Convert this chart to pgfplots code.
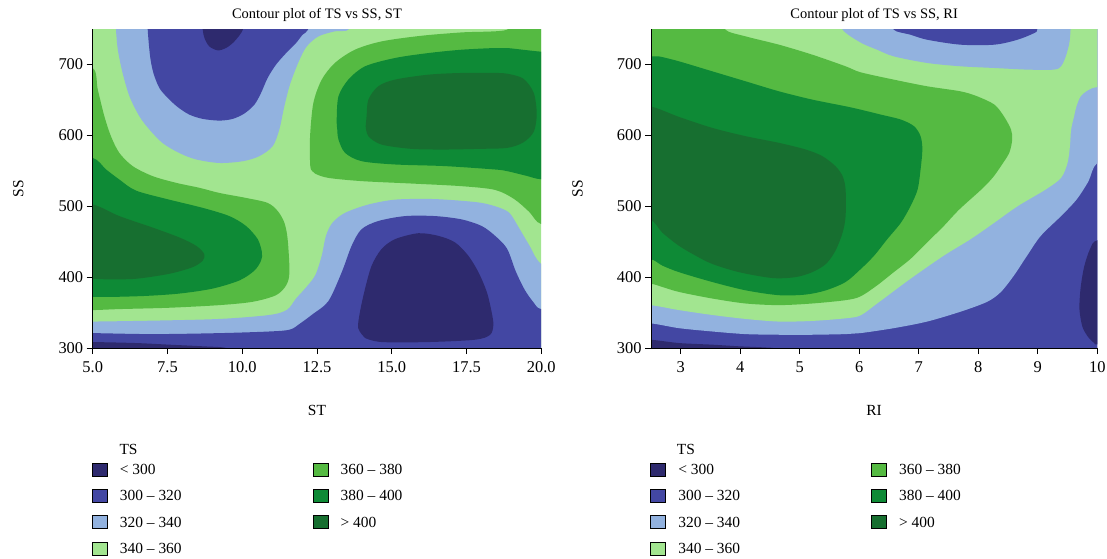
\documentclass[border=0pt]{standalone}
\usepackage{fontspec}
\setmainfont{Liberation Serif}
\usepackage{pgfplots}
\pgfplotsset{compat=1.18}
\definecolor{cA}{HTML}{2E2A6E}
\definecolor{cB}{HTML}{4347A3}
\definecolor{cC}{HTML}{92B2DF}
\definecolor{cD}{HTML}{A2E590}
\definecolor{cE}{HTML}{55BA42}
\definecolor{cF}{HTML}{0E8A36}
\definecolor{cG}{HTML}{176F30}
\pgfplotsset{
  cbase/.style={
    scale only axis, height=319bp,
    ymin=300, ymax=750, ytick={300,400,500,600,700},
    axis lines*=left, axis on top,
    tick align=outside, major tick length=6bp,
    axis line style={line width=0.9bp, black},
    every tick/.style={line width=0.9bp, black},
    tick label style={font=\fontsize{16.5}{19}\selectfont},
    xticklabel style={yshift=-4bp},
    /pgf/number format/assume math mode=true,
    label style={font=\fontsize{15.5}{18}\selectfont},
    title style={font=\fontsize{14.5}{17}\selectfont, at={(axis description cs:0.5,1.026)}, anchor=center},
    ylabel style={at={(axis description cs:-0.166,0.5)}, anchor=center},
    xlabel style={at={(axis description cs:0.5,-0.195)}, anchor=center},
    legend columns=2, legend cell align=left,
    legend image code/.code={\fill[##1] (0bp,-6.5bp) rectangle (15bp,6.5bp);},
    legend style={draw=none, fill=none, inner xsep=0pt, inner ysep=0pt, anchor=north west,
       font=\fontsize{15.5}{18}\selectfont, nodes={inner sep=0pt, text depth=0pt},
       row sep=13bp,
       /tikz/every odd column/.append style={column sep=12.6bp},
       /tikz/every even column/.append style={column sep=131bp}},
  },
  cfill/.style={fill=#1, draw=none, forget plot, smooth, tension=0.5},
}
\newcommand{\tslegend}{%
  \addlegendimage{fill=cA}\addlegendentry{< 300}
  \addlegendimage{fill=cE}\addlegendentry{360 -- 380}
  \addlegendimage{fill=cB}\addlegendentry{300 -- 320}
  \addlegendimage{fill=cF}\addlegendentry{380 -- 400}
  \addlegendimage{fill=cC}\addlegendentry{320 -- 340}
  \addlegendimage{fill=cG}\addlegendentry{> 400}
  \addlegendimage{fill=cD}\addlegendentry{340 -- 360}
}
\begin{document}
\begin{tikzpicture}
\path[use as bounding box] (0bp,0bp) rectangle (1107bp,-559bp);
% ---------------- left: TS vs SS, ST ----------------
\begin{axis}[cbase, at={(92.7bp,-348bp)}, anchor=south west, width=448.5bp,
  xmin=5, xmax=20, xtick={5,7.5,10,12.5,15,17.5,20},
  xticklabels={5.0,7.5,10.0,12.5,15.0,17.5,20.0},
  title={Contour plot of TS vs SS, ST}, xlabel={ST}, ylabel={SS},
  legend style={at={(axis description cs:-0.0022,-0.3585)}}]
\addplot[fill=cD, draw=none, forget plot] coordinates {(4,280)(21,280)(21,770)(4,770)};
% top light blue
\addplot[cfill=cC] coordinates {(5.78,770)(5.78,749)(5.84,720.8)(6.0,688)(6.23,655)(6.56,627)(6.9,608)(7.34,589)(7.9,575)(8.46,566)(9.24,561)(10.02,563.5)(10.57,570.6)(11.02,584.7)(11.24,608)(11.41,641)(11.6,672)(11.9,705)(12.16,725.5)(12.55,739.6)(13.1,746.7)(13.55,749)(13.6,770)};
% top blue
\addplot[cfill=cB] coordinates {(6.84,770)(6.84,749)(6.92,711.4)(7.03,688)(7.23,666.8)(7.51,652.8)(7.84,640)(8.23,629.3)(8.68,623.2)(9.24,620.8)(9.68,623.2)(10.07,630.7)(10.41,643.4)(10.63,659.8)(10.85,680.9)(11.13,699.7)(11.47,716.1)(11.8,730.2)(12.02,742)(12.2,749)(12.2,770)};
% top dark
\addplot[cfill=cA] coordinates {(8.65,770)(8.68,749)(8.74,737)(8.9,725.5)(9.18,719.9)(9.46,723.2)(9.74,732.6)(10.02,749)(10.05,770)};
% bottom light blue
\addplot[cfill=cC] coordinates {(4,280)(4,337.3)(5.0,337.3)(7.01,338.6)(9.24,341)(10.91,346.6)(11.5,354)(11.8,369.8)(12.1,383.8)(12.44,402.4)(12.66,430.3)(12.8,458.2)(13.02,476.8)(13.44,490.7)(14.22,502.4)(15.11,509.3)(16.23,510.3)(17.12,508.4)(18.01,504.7)(18.6,498)(18.95,490)(19.25,470)(19.6,445)(20,418.6)(21,400)(21,280)};
% bottom blue
\addplot[cfill=cB] coordinates {(4,280)(4,321)(5.0,321)(7.01,319.6)(9.24,321)(10.91,323.3)(11.6,326)(11.95,335)(12.35,347.5)(12.88,366)(13.33,407)(13.66,444.2)(13.99,467.5)(14.55,479.1)(15.45,486.1)(16.45,486.1)(17.34,481.4)(18.01,472.1)(18.46,458.2)(18.86,440)(19.15,408)(19.45,382)(19.75,364)(20,354.8)(21,350)(21,280)};
% bottom dark blob
\addplot[cfill=cA] coordinates {(14.11,314)(13.88,328)(13.94,351.2)(14.11,383.8)(14.33,416.3)(14.66,439.6)(15.11,453.5)(15.89,461.9)(16.56,458.2)(17.12,448.9)(17.56,430.3)(17.9,407)(18.18,379.1)(18.34,351.2)(18.4,332.6)(18.29,318.6)(17.79,311.7)(16.23,308.4)(14.66,308.4)(14.11,314)};
% bottom-left dark strip
\addplot[cfill=cA] coordinates {(4,290)(4,308.4)(5.0,308.4)(6.45,307)(7.56,304.7)(8.68,302.4)(9.46,300)(9.6,290)};
% left mid green
\addplot[cfill=cE] coordinates {(4,695)(5.0,695)(5.17,664.5)(5.39,626.9)(5.61,598.8)(5.89,575.3)(6.34,556.5)(7.01,542.4)(7.79,533)(8.57,526)(9.24,518.7)(10.13,511.7)(10.85,504.7)(11.19,493.1)(11.41,476.8)(11.52,453.5)(11.58,407)(11.47,388.4)(11.13,374.5)(10.35,365.2)(9.24,360.5)(7.56,356.8)(5.89,354.9)(5.0,353.5)(4,353.5)};
% left 380-400
\addplot[cfill=cF] coordinates {(4,568.2)(5.0,568.2)(5.45,551.8)(5.89,537.7)(6.45,522)(7.56,509.3)(8.68,497.7)(9.57,486.1)(10.13,472.1)(10.52,453.5)(10.66,434.9)(10.63,423.3)(10.41,409.3)(9.91,395.4)(9.01,383.8)(7.9,376.8)(6.78,373.5)(5.67,372.1)(5.0,372.1)(4,372.1)};
% left >400
\addplot[cfill=cG] coordinates {(4,502.4)(5.0,502.4)(5.89,486.1)(7.01,469.8)(7.9,455.9)(8.46,444.2)(8.73,432.6)(8.68,423.3)(8.34,414)(7.56,404.7)(6.45,397.7)(5.45,396.8)(5.0,397.7)(4,397.7)};
% right mid green
\addplot[cfill=cE] coordinates {(12.3,552)(12.27,561.2)(12.27,598.8)(12.38,645.7)(12.66,678.6)(13.10,702.1)(13.77,720.8)(14.67,732.6)(16.0,740.5)(17.34,745.2)(18.86,749)(18.9,770)(21,770)(21,474.8)(20,474.8)(19.6,492)(19.1,510)(18.46,523)(17.34,528.3)(15.67,532)(14.0,535.4)(12.88,540)(12.44,546)(12.3,552)};
% right 380-400
\addplot[cfill=cF] coordinates {(13.18,608)(13.16,622.2)(13.22,655.1)(13.55,678.6)(14.11,697.4)(15.11,709.1)(16.23,716.1)(17.34,720.8)(18.46,723.2)(18.86,723.2)(20,718)(21,716)(21,538)(20,538)(19.5,543)(18.86,549.5)(18.46,551.8)(16.78,556.6)(15.11,558.9)(13.99,563.6)(13.44,575.3)(13.22,594.1)(13.18,608)};
% right >400
\addplot[cfill=cG] coordinates {(14.13,612.9)(14.16,626.9)(14.22,650.4)(14.55,669.2)(15.11,678.6)(16.23,685.6)(17.34,688)(18.46,688)(18.86,687)(19.4,680)(19.75,660)(19.85,630)(19.75,605)(19.4,590)(18.86,582.3)(17.9,580.9)(16.78,580)(15.67,580.9)(14.66,587)(14.22,598.8)(14.13,612.9)};
\tslegend
\end{axis}
% ---------------- right: TS vs SS, RI ----------------
\begin{axis}[cbase, at={(651bp,-348bp)}, anchor=south west, width=446.3bp,
  xmin=2.5, xmax=10, xtick={3,4,5,6,7,8,9,10},
  title={Contour plot of TS vs SS, RI}, xlabel={RI}, ylabel={SS},
  ylabel style={at={(axis description cs:-0.1646,0.5)}},
  legend style={at={(axis description cs:-0.002,-0.3585)}}]
\addplot[fill=cB, draw=none, forget plot] coordinates {(2,280)(10.5,280)(10.5,770)(2,770)};
% light blue (above L320)
\addplot[cfill=cC] coordinates {(2,770)(2,334.9)(2.48,334.9)(2.97,328)(3.53,323.3)(4.09,319.6)(4.65,318.7)(5.21,318.7)(5.77,319.6)(6.02,321)(6.58,328)(7.14,337.3)(7.7,351.2)(8.15,365.2)(8.38,379.1)(8.6,402.4)(8.82,430.3)(9.05,458.2)(9.39,486.1)(9.65,509.3)(9.85,535)(10,561)(10.5,575)(10.5,770)};
% light green (above L340)
\addplot[cfill=cD] coordinates {(2,770)(2,360.5)(2.48,360.5)(2.97,353.5)(3.53,346.6)(4.09,341)(4.65,337.3)(5.21,338.2)(5.77,341.9)(6.02,346)(6.3,362.8)(6.86,397.7)(7.42,430.3)(7.87,453.5)(8.27,476.8)(8.66,500)(9.13,523.5)(9.39,540)(9.5,561.2)(9.54,584.7)(9.56,608.2)(9.61,627)(9.65,641)(9.72,655)(9.85,664)(10,668)(10.5,670)(10.5,770)};
% top light blue band
\addplot[cfill=cC] coordinates {(5.7,770)(5.72,749)(6.02,731)(6.3,720.8)(6.58,711.4)(7.14,702.1)(7.7,697.4)(8.27,695)(8.83,692.7)(9.27,692.7)(9.39,697.4)(9.47,711.4)(9.53,730.2)(9.55,749)(9.55,770)};
% top blue blob
\addplot[cfill=cB] coordinates {(6.55,770)(6.58,749)(6.86,742)(7.14,734.9)(7.7,727.9)(8.27,727.9)(8.66,734.9)(8.94,744.3)(8.99,749)(9.0,770)};
% mid green
\addplot[cfill=cE] coordinates {(2,770)(3.75,770)(3.75,749)(4.09,739.6)(4.65,727.9)(5.21,713.8)(5.77,697.4)(6.02,689)(6.58,678.6)(7.14,669.2)(7.7,662.1)(7.98,655.1)(8.27,643.4)(8.43,626.9)(8.55,608.2)(8.57,594.1)(8.52,575.3)(8.38,556.5)(8.24,540.1)(8.05,523.5)(7.68,495.4)(7.42,472.1)(7.14,448.9)(6.86,425.6)(6.58,407)(6.3,388.4)(6.02,372.8)(5.77,367.5)(5.21,362.8)(4.65,360.5)(4.09,362.8)(3.53,369.8)(2.97,379.1)(2.69,386.1)(2.48,390.7)(2,390.7)};
% 380-400
\addplot[cfill=cF] coordinates {(2,711.4)(2.48,711.4)(2.63,711.4)(2.97,704.4)(3.53,690.3)(4.09,676.2)(4.65,662.1)(5.21,650.4)(5.77,641)(6.02,636.3)(6.36,629.3)(6.7,622.2)(6.92,612.9)(7.03,598.8)(7.06,580)(7.03,551.8)(6.98,523.5)(6.86,500)(6.7,476.8)(6.47,453.5)(6.25,430.3)(6.02,411)(5.77,393.1)(5.44,381.4)(5.1,375.4)(4.65,374.5)(4.09,381.4)(3.53,393.1)(2.97,407)(2.69,416.3)(2.48,425.6)(2,425.6)};
% >400
\addplot[cfill=cG] coordinates {(2,641)(2.48,641)(2.97,626)(3.53,610.5)(4.09,598.8)(4.65,589.4)(5.1,580)(5.38,570.6)(5.6,556.5)(5.72,542.4)(5.77,523.5)(5.77,486.1)(5.72,462.8)(5.6,437.3)(5.44,418.6)(5.21,407)(4.93,400)(4.54,398.7)(3.98,407)(3.53,418.6)(3.25,430.3)(2.97,444.2)(2.69,462.8)(2.48,481.4)(2,481.4)};
% dark right-edge blob
\addplot[cfill=cA] coordinates {(10.5,455)(10,452)(9.88,440)(9.78,415)(9.72,385)(9.7,355)(9.75,330)(9.85,315)(9.95,307)(10,305)(10.5,305)};
% dark bottom-left strip
\addplot[cfill=cA] coordinates {(2,290)(2,311.7)(2.48,311.7)(2.97,307)(3.53,304.7)(3.98,302.4)(4.37,301)(4.6,299)(4.6,290)};
\tslegend
\end{axis}
\node[anchor=base west, inner sep=0pt, font=\fontsize{15.5}{18}\selectfont] at (119.3bp,-454bp) {TS};
\node[anchor=base west, inner sep=0pt, font=\fontsize{15.5}{18}\selectfont] at (676.7bp,-454bp) {TS};
\end{tikzpicture}
\end{document}
